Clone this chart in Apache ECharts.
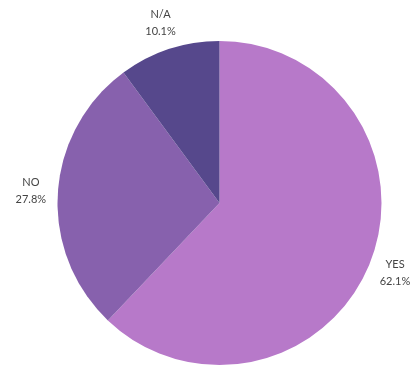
<!DOCTYPE html>
<html>
<head>
<meta charset="utf-8">
<script src="https://cdn.jsdelivr.net/npm/echarts@6/dist/echarts.min.js"></script>
<style>
  html, body { margin: 0; padding: 0; background: #ffffff; }
  #chart { width: 417px; height: 366px; }
</style>
</head>
<body>
<div id="chart"></div>
<script>
// Survey answers, clockwise from 12 o'clock
const categories = ['YES', 'NO', 'N/A'];
const values = [62.1, 27.8, 10.1];
const colors = ['#b779c9', '#8761ad', '#56488c'];

const chart = echarts.init(document.getElementById('chart'), null, { renderer: 'canvas' });

chart.setOption({
  animation: false,
  color: colors,
  series: [{
    type: 'pie',
    center: [219.5, 203],
    radius: [0, 162],
    startAngle: 90,
    clockwise: true,
    avoidLabelOverlap: false,
    data: categories.map((name, i) => ({ name, value: values[i] })),
    itemStyle: { borderWidth: 0 },
    label: {
      show: true,
      position: 'outside',
      formatter: p => p.name + '\n' + p.value.toFixed(1) + '%',
      fontFamily: 'Lato, "Open Sans", sans-serif',
      fontSize: 11,
      lineHeight: 17,
      color: '#444444',
      align: 'center'
    },
    labelLine: { show: false, length: 27, length2: 0 },
    labelLayout: params => {
      const pts = params.labelLinePoints;
      const end = pts[pts.length - 1];
      return { x: end[0], y: end[1], align: 'center', verticalAlign: 'middle' };
    }
  }]
});
</script>
</body>
</html>
